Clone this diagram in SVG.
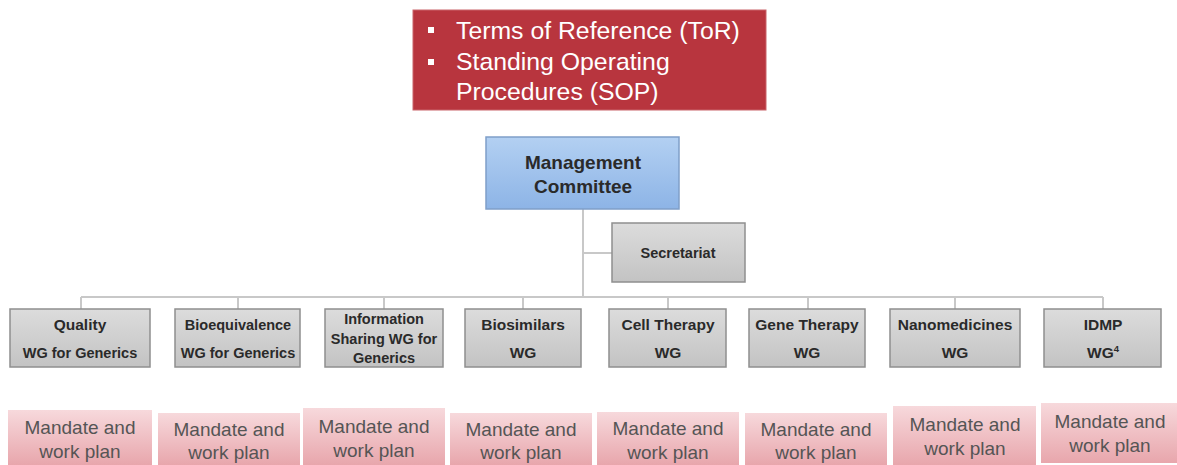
<svg xmlns="http://www.w3.org/2000/svg" width="1177" height="465" viewBox="0 0 1177 465">
  <defs>
    <linearGradient id="gBlue" x1="0" y1="0" x2="0" y2="1">
      <stop offset="0" stop-color="#b3d0f2"/>
      <stop offset="1" stop-color="#8db4e6"/>
    </linearGradient>
    <linearGradient id="gGray" x1="0" y1="0" x2="0" y2="1">
      <stop offset="0" stop-color="#dcdcdc"/>
      <stop offset="1" stop-color="#c3c3c3"/>
    </linearGradient>
    <linearGradient id="gPink" x1="0" y1="0" x2="0" y2="1">
      <stop offset="0" stop-color="#f7d9dc"/>
      <stop offset="1" stop-color="#e8a6ac"/>
    </linearGradient>
  </defs>
  <style>
    .head { fill: #b8353e; stroke: #c9646a; stroke-width: 1; }
    .headTxt { font-family: "Liberation Sans", Arial, sans-serif; font-size: 24.8px; fill: #ffffff; }
    .bullet { fill: #ffffff; }
    .mc { fill: url(#gBlue); stroke: #7f9fc9; stroke-width: 1.5; }
    .wg { fill: url(#gGray); stroke: #8f8f8f; stroke-width: 1.5; }
    .lbl { font-family: "Liberation Sans", Arial, sans-serif; font-weight: bold; fill: #2a2a2a; text-anchor: middle; }
    .s { font-size: 14.5px; }
    .m { font-size: 15.5px; }
    .plan { fill: url(#gPink); }
    .planTxt { font-family: "Liberation Sans", Arial, sans-serif; font-size: 19px; fill: #555555; text-anchor: middle; }
    .conn { stroke: #c8c8c8; stroke-width: 2; fill: none; }
  </style>

  <rect width="1177" height="465" fill="#ffffff"/>

  <!-- governing documents -->
  <g id="documents">
    <rect class="head" x="413" y="10" width="353" height="100"/>
    <rect class="bullet" x="428" y="27" width="6" height="6"/>
    <rect class="bullet" x="428" y="59" width="6" height="6"/>
    <text class="headTxt" x="456" y="39">Terms of Reference (ToR)</text>
    <text class="headTxt" x="456" y="70">Standing Operating</text>
    <text class="headTxt" x="456" y="100">Procedures (SOP)</text>
  </g>

  <!-- connectors -->
  <g id="connectors">
    <path class="conn" d="M583 209 V297"/>
    <path class="conn" d="M583 253 H612"/>
    <path class="conn" d="M81 297 H1103"/>
    <path class="conn" d="M81 297 V309 M238 297 V309 M384 297 V309 M523 297 V309 M668 297 V309 M808 297 V309 M955 297 V309 M1103 297 V309"/>
  </g>

  <g id="management-committee">
    <rect class="mc" x="486" y="137" width="193" height="72"/>
    <text class="lbl" x="583" y="169" font-size="19">Management</text>
    <text class="lbl" x="583" y="193" font-size="19">Committee</text>
  </g>

  <g id="secretariat">
    <rect class="wg" x="612" y="223" width="133" height="59"/>
    <text class="lbl" x="678" y="258" font-size="14.5">Secretariat</text>
  </g>

  <!-- working groups -->
  <g id="wg-quality">
    <rect class="wg" x="10" y="309" width="140" height="58"/>
    <text class="lbl m" x="80" y="330">Quality</text>
    <text class="lbl s" x="80" y="358">WG for Generics</text>
  </g>
  <g id="wg-bioequivalence">
    <rect class="wg" x="175" y="309" width="125" height="58"/>
    <text class="lbl s" x="238" y="330">Bioequivalence</text>
    <text class="lbl s" x="238" y="358">WG for Generics</text>
  </g>
  <g id="wg-information-sharing">
    <rect class="wg" x="325" y="309" width="118" height="58"/>
    <text class="lbl s" x="384" y="324">Information</text>
    <text class="lbl s" x="384" y="344">Sharing WG for</text>
    <text class="lbl s" x="384" y="363">Generics</text>
  </g>
  <g id="wg-biosimilars">
    <rect class="wg" x="465" y="309" width="116" height="58"/>
    <text class="lbl m" x="523" y="330">Biosimilars</text>
    <text class="lbl m" x="523" y="358">WG</text>
  </g>
  <g id="wg-cell-therapy">
    <rect class="wg" x="609" y="309" width="117" height="58"/>
    <text class="lbl m" x="668" y="330">Cell Therapy</text>
    <text class="lbl m" x="668" y="358">WG</text>
  </g>
  <g id="wg-gene-therapy">
    <rect class="wg" x="749" y="309" width="116" height="58"/>
    <text class="lbl m" x="807" y="330">Gene Therapy</text>
    <text class="lbl m" x="807" y="358">WG</text>
  </g>
  <g id="wg-nanomedicines">
    <rect class="wg" x="890" y="309" width="130" height="58"/>
    <text class="lbl m" x="955" y="330">Nanomedicines</text>
    <text class="lbl m" x="955" y="358">WG</text>
  </g>
  <g id="wg-idmp">
    <rect class="wg" x="1044" y="309" width="117" height="58"/>
    <text class="lbl m" x="1103" y="330">IDMP</text>
    <text class="lbl m" x="1103" y="358">WG<tspan font-size="9.5" dy="-6">4</tspan></text>
  </g>

  <!-- mandate and work plan per group -->
  <g id="plan-1">
    <rect class="plan" x="8" y="410" width="144" height="55"/>
    <text class="planTxt" x="80" y="434">Mandate and</text>
    <text class="planTxt" x="80" y="458">work plan</text>
  </g>
  <g id="plan-2">
    <rect class="plan" x="158" y="413" width="142" height="52"/>
    <text class="planTxt" x="229" y="436">Mandate and</text>
    <text class="planTxt" x="229" y="459">work plan</text>
  </g>
  <g id="plan-3">
    <rect class="plan" x="303" y="408" width="142" height="57"/>
    <text class="planTxt" x="374" y="433">Mandate and</text>
    <text class="planTxt" x="374" y="457">work plan</text>
  </g>
  <g id="plan-4">
    <rect class="plan" x="450" y="413" width="142" height="52"/>
    <text class="planTxt" x="521" y="436">Mandate and</text>
    <text class="planTxt" x="521" y="459">work plan</text>
  </g>
  <g id="plan-5">
    <rect class="plan" x="597" y="412" width="142" height="53"/>
    <text class="planTxt" x="668" y="435">Mandate and</text>
    <text class="planTxt" x="668" y="459">work plan</text>
  </g>
  <g id="plan-6">
    <rect class="plan" x="745" y="413" width="142" height="52"/>
    <text class="planTxt" x="816" y="436">Mandate and</text>
    <text class="planTxt" x="816" y="459">work plan</text>
  </g>
  <g id="plan-7">
    <rect class="plan" x="893" y="406" width="143" height="59"/>
    <text class="planTxt" x="965" y="431">Mandate and</text>
    <text class="planTxt" x="965" y="455">work plan</text>
  </g>
  <g id="plan-8">
    <rect class="plan" x="1041" y="403" width="136" height="60"/>
    <text class="planTxt" x="1110" y="428">Mandate and</text>
    <text class="planTxt" x="1110" y="452">work plan</text>
  </g>
</svg>
